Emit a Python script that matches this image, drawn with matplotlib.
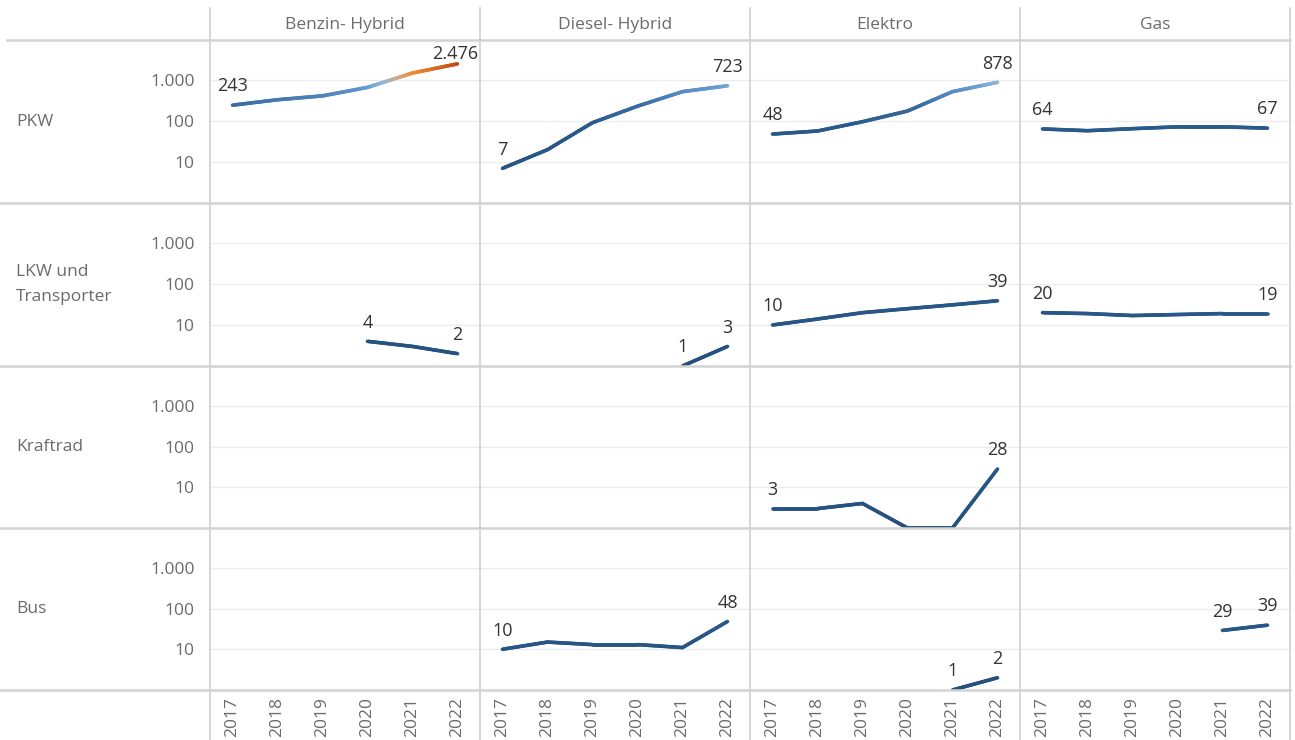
import numpy as np
import matplotlib
matplotlib.use('Agg')
import matplotlib.pyplot as plt
from matplotlib.collections import LineCollection
from matplotlib.colors import LinearSegmentedColormap
from matplotlib.lines import Line2D

plt.rcParams['font.family'] = ['Open Sans', 'DejaVu Sans']

nan = np.nan

# data
years = [2017, 2018, 2019, 2020, 2021, 2022]
kraftstoffe = ['Benzin- Hybrid', 'Diesel- Hybrid', 'Elektro', 'Gas']
fahrzeuge = ['PKW', 'LKW und\nTransporter', 'Kraftrad', 'Bus']
y_ticks = [10, 100, 1000]
y_ticklabels = ['10', '100', '1.000']

pkw_benzin = [243, 330, 410, 660, 1480, 2476]
pkw_diesel = [7, 20, 91, 230, 520, 723]
pkw_elektro = [48, 57, 96, 175, 520, 878]
pkw_gas = [64, 58, 65, 72, 72, 67]

lkw_benzin = [nan, nan, nan, 4, 3, 2]
lkw_diesel = [nan, nan, nan, nan, 1, 3]
lkw_elektro = [10, 14, 20, 25, 31, 39]
lkw_gas = [20, 19, 17, 18, 19, 19]

krad_benzin = [nan, nan, nan, nan, nan, nan]
krad_diesel = [nan, nan, nan, nan, nan, nan]
krad_elektro = [3, 3, 4, 1, 1, 28]
krad_gas = [nan, nan, nan, nan, nan, nan]

bus_benzin = [nan, nan, nan, nan, nan, nan]
bus_diesel = [10, 15, 13, 13, 11, 48]
bus_elektro = [nan, nan, nan, nan, 1, 2]
bus_gas = [nan, nan, nan, nan, 29, 39]

werte = [
    [pkw_benzin, pkw_diesel, pkw_elektro, pkw_gas],
    [lkw_benzin, lkw_diesel, lkw_elektro, lkw_gas],
    [krad_benzin, krad_diesel, krad_elektro, krad_gas],
    [bus_benzin, bus_diesel, bus_elektro, bus_gas],
]

# colour by value (log scale), blue -> orange
lmax = 3.4
cmap = LinearSegmentedColormap.from_list('ob', [
    (0.0, '#24507d'),
    (1.9 / lmax, '#295a8b'),
    (2.4 / lmax, '#3a6ca3'),
    (2.8 / lmax, '#5f96cb'),
    (2.95 / lmax, '#8fb5d8'),
    (3.05 / lmax, '#c8ae90'),
    (3.18 / lmax, '#f08c32'),
    (1.0, '#c24c16'),
])


def fmt(v):
    return '{:,}'.format(int(v)).replace(',', '.')


W, H = 1295, 740
fig = plt.figure(figsize=(W / 100, H / 100), dpi=100)
col_edges = [210, 480, 750, 1020, 1290]
row_edges = [40, 203, 366, 528, 690]
grey_txt = '#6b6b6b'
border = '#d3d3d3'
labels = []

for r in range(4):
    for c in range(4):
        x0, x1 = col_edges[c], col_edges[c + 1]
        y0, y1 = row_edges[r], row_edges[r + 1]
        ax = fig.add_axes([x0 / W, 1 - y1 / H, (x1 - x0) / W, (y1 - y0) / H])
        ax.set_yscale('log')
        ax.set_ylim(1, 10 ** (163 / 41))
        ax.set_xlim(2016.5, 2022.5)
        for s in ax.spines.values():
            s.set_visible(False)
        ax.set_yticks(y_ticks)
        ax.yaxis.set_minor_locator(matplotlib.ticker.NullLocator())
        ax.set_xticks(years)
        ax.grid(axis='y', color='#ececec', linewidth=1)
        ax.set_axisbelow(True)
        ax.tick_params(length=0)
        if c == 0:
            ax.set_yticklabels(y_ticklabels, fontsize=12.5, color=grey_txt)
            ax.tick_params(axis='y', pad=11)
        else:
            ax.set_yticklabels([])
        if r == 3:
            ax.set_xticklabels([str(y) for y in years], rotation=90,
                               fontsize=12.5, color=grey_txt, va='top')
            ax.tick_params(axis='x', pad=5)
        else:
            ax.set_xticklabels([])

        vals = np.array(werte[r][c], dtype=float)
        idx = [i for i in range(len(years)) if not np.isnan(vals[i])]
        if not idx:
            continue
        xs = np.array(years, dtype=float)[idx]
        ly = np.log10(vals[idx])
        segs, cols = [], []
        for i in range(len(xs) - 1):
            t = np.linspace(0, 1, 30)
            xx = xs[i] + t * (xs[i + 1] - xs[i])
            yy = ly[i] + t * (ly[i + 1] - ly[i])
            for k in range(len(t) - 1):
                segs.append([(xx[k], 10 ** yy[k]), (xx[k + 1], 10 ** yy[k + 1])])
                cols.append(cmap(((yy[k] + yy[k + 1]) / 2) / lmax))
        lc = LineCollection(segs, colors=cols, linewidths=2.6, capstyle='round')
        ax.add_collection(lc)

        for i in [idx[0], idx[-1]]:
            a = ax.annotate(fmt(vals[i]), (years[i], vals[i]), xytext=(0, 7),
                            textcoords='offset points', ha='center', va='bottom',
                            fontsize=13, color='#333333', annotation_clip=False)
            labels.append((a, ax))

# keep labels inside their pane, like tableau does
fig.canvas.draw()
rend = fig.canvas.get_renderer()
for a, ax in labels:
    bb = a.get_window_extent(rend)
    pb = ax.get_window_extent(rend)
    dx, dy = 0, 0
    if bb.x1 > pb.x1 - 2:
        dx = pb.x1 - 2 - bb.x1
    if bb.x0 < pb.x0 + 2:
        dx = pb.x0 + 2 - bb.x0
    if bb.y1 > pb.y1 - 5:
        dy = pb.y1 - 5 - bb.y1
    a.xyann = (dx * 0.72, 7 + dy * 0.72)

# headers and row labels
for c, name in enumerate(kraftstoffe):
    xc = (col_edges[c] + col_edges[c + 1]) / 2
    fig.text(xc / W, 1 - 25 / H, name, ha='center', va='center',
             fontsize=12.5, color=grey_txt)
for r, name in enumerate(fahrzeuge):
    yc = (row_edges[r] + row_edges[r + 1]) / 2
    fig.text(16 / W, 1 - yc / H, name, ha='left', va='center',
             fontsize=12.5, color=grey_txt, linespacing=1.75)

# borders
fig.add_artist(Line2D([7 / W, 1290 / W], [1 - 40 / H, 1 - 40 / H],
                      color=border, linewidth=1.8))
for y in row_edges[1:]:
    fig.add_artist(Line2D([0, 1290 / W], [1 - y / H, 1 - y / H],
                          color=border, linewidth=1.8))
for x in col_edges:
    fig.add_artist(Line2D([x / W, x / W], [0, 1 - 8 / H],
                          color=border, linewidth=1.3))

fig.savefig('out.png', dpi=100)
